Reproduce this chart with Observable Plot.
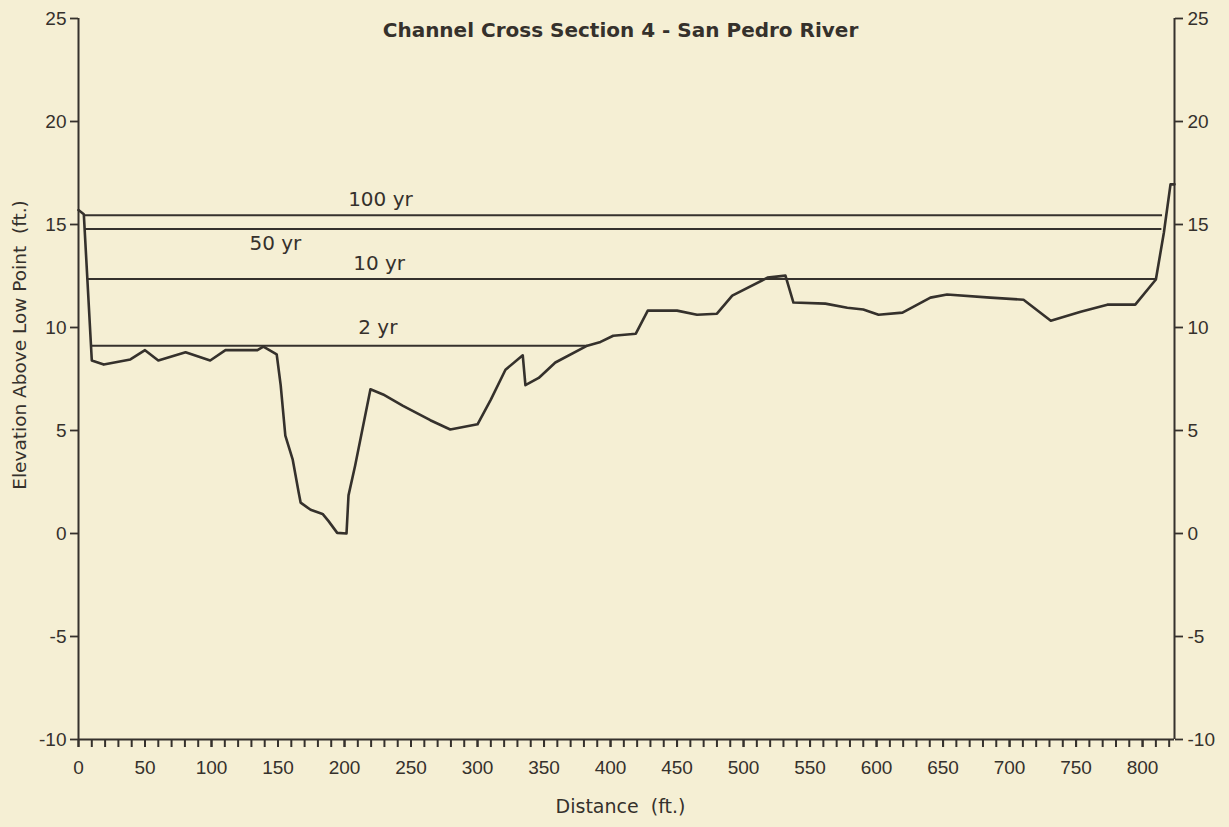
<!DOCTYPE html>
<html>
<head>
<meta charset="utf-8">
<script src="https://cdn.jsdelivr.net/npm/d3@7"></script>
<script src="https://cdn.jsdelivr.net/npm/@observablehq/plot@0.6"></script>
<style>
  html, body { margin: 0; padding: 0; background: #f5efd4; }
  #chart svg { display: block; }
</style>
</head>
<body>
<div id="chart"></div>
<script>
// Ground profile: distance (ft) and elevation above low point (ft)
const distance = [0, 4, 10, 19, 39, 50, 60, 80.5, 99, 110.5, 134.5, 139, 149, 152, 155.5, 161, 165.5, 167, 174.5, 183.5, 188, 194.5, 201.5, 203, 208, 219.5, 229, 244, 264.5, 279.5, 300, 310, 321, 334, 336, 346, 358.5, 382.5, 392.5, 402, 419, 428, 450, 465, 480, 491.5, 518, 531.5, 537.5, 561.5, 578, 590, 601.5, 619.5, 640.5, 653, 685.5, 710.5, 731, 753.5, 773.5, 794.5, 810, 816, 821, 824];
const elevation = [15.7, 15.5, 8.4, 8.2, 8.45, 8.9, 8.4, 8.8, 8.4, 8.9, 8.9, 9.07, 8.7, 7.2, 4.75, 3.6, 2.0, 1.5, 1.15, 0.95, 0.6, 0.03, 0.0, 1.85, 3.3, 7.0, 6.75, 6.2, 5.5, 5.05, 5.3, 6.5, 7.95, 8.65, 7.2, 7.55, 8.3, 9.12, 9.3, 9.6, 9.7, 10.82, 10.82, 10.62, 10.67, 11.55, 12.42, 12.52, 11.21, 11.16, 10.96, 10.87, 10.62, 10.72, 11.45, 11.6, 11.45, 11.35, 10.33, 10.77, 11.11, 11.11, 12.33, 14.6, 16.95, 16.95];

// Flood water surfaces
const levelNames = ["100 yr", "50 yr", "10 yr", "2 yr"];
const levelElevation = [15.45, 14.78, 12.35, 9.12];
const levelStart = [4, 5, 7.5, 10];
const levelEnd = [815, 814.5, 810, 383];
const labelDistance = [227, 148, 226, 225];
const labelElevation = [16.2, 14.05, 13.1, 10.0];

// Axis ticks
const xMajorTicks = d3.range(0, 801, 50);
const xMinorTicks = d3.range(0, 821, 10);
const yTicks = d3.range(-10, 26, 5);

const title = "Channel Cross Section 4 - San Pedro River";
const xLabel = "Distance  (ft.)";
const yLabel = "Elevation Above Low Point  (ft.)";

const profile = distance.map((d, i) => ({distance: d, elevation: elevation[i]}));
const levels = levelNames.map((name, i) => ({
  name, elevation: levelElevation[i], x1: levelStart[i], x2: levelEnd[i],
  lx: labelDistance[i], ly: labelElevation[i]
}));

const ink = "#35312c";
const tickFont = "Liberation Sans, Arial, Helvetica, sans-serif";
const textFont = "DejaVu Sans, Verdana, sans-serif";
const plain = (d) => `${d}`;

const chart = Plot.plot({
  width: 1229,
  height: 827,
  marginLeft: 78,
  marginRight: 55,
  marginTop: 18,
  marginBottom: 88,
  style: {background: "#f5efd4", color: ink, fontFamily: tickFont, fontSize: "19px"},
  x: {domain: [0, 824]},
  y: {domain: [-10, 25]},
  marks: [
    Plot.ruleY([-10], {stroke: ink, strokeWidth: 2}),
    Plot.ruleX([0], {stroke: ink, strokeWidth: 2}),
    Plot.ruleX([824], {stroke: ink, strokeWidth: 2}),
    Plot.axisY({anchor: "left", ticks: yTicks, tickFormat: plain, tickSize: 8, tickPadding: 4, label: null, strokeWidth: 1.8, fontSize: 19, fill: ink}),
    Plot.axisY({anchor: "right", ticks: yTicks, tickFormat: plain, tickSize: 8, tickPadding: 5, label: null, strokeWidth: 1.8, fontSize: 19, fill: ink}),
    Plot.axisX({ticks: xMinorTicks, tickFormat: () => "", tickSize: 8, label: null, strokeWidth: 2}),
    Plot.axisX({ticks: xMajorTicks, tickFormat: plain, tickSize: 8, tickPadding: 13, label: null, strokeWidth: 2, fontSize: 19, fill: ink}),
    Plot.ruleY(levels, {y: "elevation", x1: "x1", x2: "x2", stroke: ink, strokeWidth: 2}),
    Plot.line(profile, {x: "distance", y: "elevation", stroke: ink, strokeWidth: 2.6, strokeLinejoin: "round"}),
    Plot.text(levels, {x: "lx", y: "ly", text: "name", fill: ink, fontFamily: textFont, fontSize: 20, lineAnchor: "middle"}),
    Plot.text([title], {frameAnchor: "top", dx: -6, dy: 12, textAnchor: "middle", lineAnchor: "middle", fill: ink, fontFamily: textFont, fontWeight: "bold", fontSize: 20}),
    Plot.text([xLabel], {frameAnchor: "bottom", dx: -6, dy: 67, textAnchor: "middle", lineAnchor: "middle", fill: ink, fontFamily: textFont, fontSize: 19}),
    Plot.text([yLabel], {frameAnchor: "left", dx: -58, dy: -34, rotate: -90, textAnchor: "middle", lineAnchor: "middle", fill: ink, fontFamily: textFont, fontSize: 18.5})
  ]
});

document.getElementById("chart").appendChild(chart);
</script>
</body>
</html>
